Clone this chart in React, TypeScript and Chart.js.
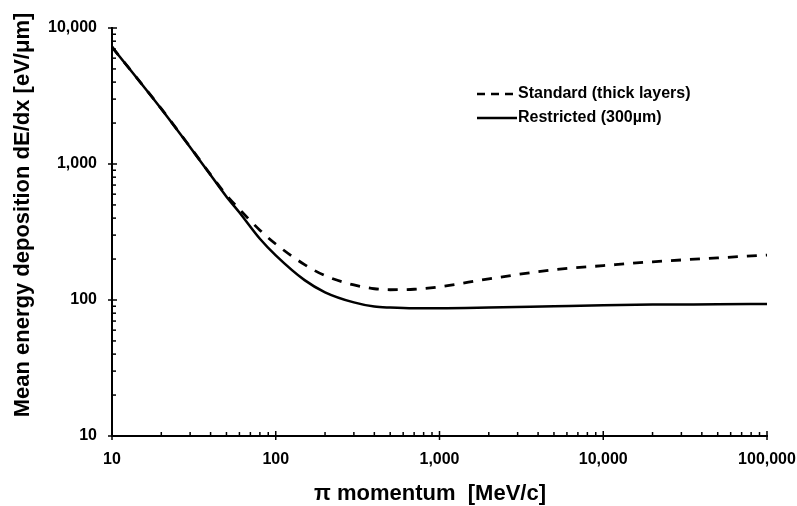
import React, { useEffect, useRef } from "react";
import { Chart, registerables } from "chart.js";

Chart.register(...registerables);

// Data
const momentum = [10, 20, 30, 40, 50, 60, 80, 100, 150, 200, 300, 400, 500, 700, 1000, 2000, 5000, 10000, 20000, 50000, 100000];
const standard = [7250, 2550, 1335, 835, 590, 465, 326, 258, 182, 151, 129, 121, 119, 120, 125, 143, 167, 179, 191, 204, 214];
const restricted = [7250, 2540, 1330, 830, 575, 440, 282, 213, 140, 114, 96, 89.5, 88, 87, 87, 88, 90, 91.5, 92.5, 93, 93.5];
const seriesNames = ["Standard (thick layers)", "Restricted (300µm)"];
const xTickValues = [10, 100, 1000, 10000, 100000];
const yTickValues = [10, 100, 1000, 10000];
const xTitle = "π momentum  [MeV/c]";
const yTitle = "Mean energy deposition dE/dx [eV/μm]";

const FONT = "'Liberation Sans', Arial, sans-serif";

const isDecade = (v: number) => {
  const l = Math.log10(v);
  return Math.abs(l - Math.round(l)) < 1e-9;
};

const buildLogTicks = (min: number, max: number) => {
  const out: { value: number }[] = [];
  for (let d = Math.round(Math.log10(min)); d < Math.round(Math.log10(max)); d++) {
    for (let m = 1; m < 10; m++) out.push({ value: m * Math.pow(10, d) });
  }
  out.push({ value: max });
  return out;
};

const overlay = {
  id: "overlay",
  afterDraw(chart: any) {
    const ctx = chart.ctx as CanvasRenderingContext2D;
    const xs = chart.scales.x;
    const ys = chart.scales.y;
    const area = chart.chartArea;
    ctx.save();
    ctx.strokeStyle = "#000";
    ctx.lineWidth = 1.5;
    // inside tick marks
    ys.ticks.forEach((t: any) => {
      const y = ys.getPixelForValue(t.value);
      const major = isDecade(t.value);
      ctx.beginPath();
      ctx.moveTo(area.left - (major ? 4 : 0), y);
      ctx.lineTo(area.left + (major ? 5 : 4), y);
      ctx.stroke();
    });
    xs.ticks.forEach((t: any) => {
      const x = xs.getPixelForValue(t.value);
      const major = isDecade(t.value);
      ctx.beginPath();
      ctx.moveTo(x, area.bottom + (major ? 4 : 0));
      ctx.lineTo(x, area.bottom - (major ? 5 : 4));
      ctx.stroke();
    });

    // axis titles
    ctx.fillStyle = "#000";
    ctx.font = `bold 22px ${FONT}`;
    ctx.textAlign = "center";
    ctx.textBaseline = "middle";
    ctx.fillText(xTitle, 430, 494);
    ctx.save();
    ctx.translate(23, 215);
    ctx.rotate(-Math.PI / 2);
    ctx.fillText(yTitle, 0, 0);
    ctx.restore();

    // legend
    const rows = [
      { y: 94, dash: [8, 6], name: seriesNames[0] },
      { y: 118, dash: [], name: seriesNames[1] },
    ];
    ctx.font = `bold 16px ${FONT}`;
    ctx.textAlign = "left";
    rows.forEach((r) => {
      ctx.beginPath();
      ctx.lineWidth = 2.5;
      ctx.setLineDash(r.dash);
      ctx.moveTo(477, r.y);
      ctx.lineTo(r.dash.length ? 513 : 517, r.y);
      ctx.stroke();
      ctx.setLineDash([]);
      ctx.fillText(r.name, 518, r.y);
    });
    ctx.restore();
  },
};

export default function App() {
  const ref = useRef<HTMLCanvasElement | null>(null);
  useEffect(() => {
    if (!ref.current) return;
    const chart = new Chart(ref.current, {
      type: "line",
      data: {
        datasets: [
          {
            label: seriesNames[0],
            data: momentum.map((x, i) => ({ x, y: standard[i] })),
            borderColor: "#000",
            borderWidth: 2.8,
            borderDash: [10, 9],
            pointRadius: 0,
            fill: false,
            cubicInterpolationMode: "monotone",
          },
          {
            label: seriesNames[1],
            data: momentum.map((x, i) => ({ x, y: restricted[i] })),
            borderColor: "#000",
            borderWidth: 2.5,
            pointRadius: 0,
            fill: false,
            cubicInterpolationMode: "monotone",
          },
        ],
      },
      options: {
        animation: false,
        responsive: true,
        maintainAspectRatio: false,
        layout: { padding: { left: 0, right: 30, top: 28, bottom: 0 } },
        plugins: { legend: { display: false }, tooltip: { enabled: false } },
        scales: {
          x: {
            type: "logarithmic",
            min: 10,
            max: 100000,
            afterBuildTicks: (s: any) => {
              s.ticks = buildLogTicks(10, 100000);
            },
            afterFit: (s: any) => {
              s.height = 70;
              s.paddingLeft = 0;
              s.paddingRight = 0;
            },
            grid: { display: false, drawTicks: false },
            border: { display: true, color: "#000", width: 2 },
            ticks: {
              autoSkip: false,
              maxRotation: 0,
              padding: 14,
              color: "#000",
              font: { family: FONT, size: 16, weight: "bold" },
              callback: (v: any) => (xTickValues.includes(Number(v)) ? Number(v).toLocaleString("en-US") : ""),
            },
          },
          y: {
            type: "logarithmic",
            min: 10,
            max: 10000,
            afterBuildTicks: (s: any) => {
              s.ticks = buildLogTicks(10, 10000);
            },
            afterFit: (s: any) => {
              s.width = 112;
              s.paddingTop = 0;
              s.paddingBottom = 0;
            },
            grid: { display: false, drawTicks: false },
            border: { display: true, color: "#000", width: 2 },
            ticks: {
              autoSkip: false,
              padding: 15,
              color: "#000",
              font: { family: FONT, size: 16, weight: "bold" },
              callback: (v: any) => (yTickValues.includes(Number(v)) ? Number(v).toLocaleString("en-US") : ""),
            },
          },
        },
      },
      plugins: [overlay],
    });
    return () => chart.destroy();
  }, []);
  return (
    <div style={{ position: "absolute", left: 0, top: 0, width: 797, height: 506, background: "#fff" }}>
      <canvas ref={ref} />
    </div>
  );
}
